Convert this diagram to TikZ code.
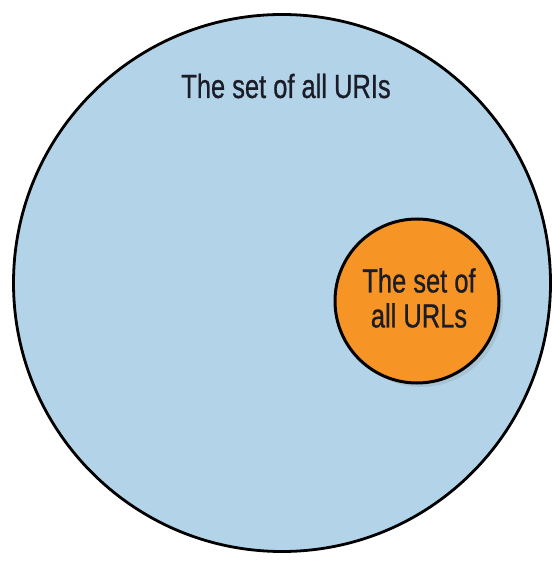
\documentclass[tikz,border=0pt]{standalone}
\usepackage{fontspec}
\setmainfont[FakeStretch=0.76, FakeBold=0.7]{Liberation Sans}
\usetikzlibrary{positioning,shadows}
\definecolor{uriblue}{RGB}{179,212,232}
\definecolor{urlorange}{RGB}{246,148,38}
\definecolor{inkdark}{RGB}{26,28,40}

\begin{document}
\begin{tikzpicture}[
	x=1pt, y=-1pt,
	uriset/.style={circle, draw=black, line width=2.8pt, fill=uriblue,
		minimum size=537pt, inner sep=0pt},
	urlset/.style={circle, draw=black, line width=3pt, fill=urlorange,
		minimum size=164pt, inner sep=0pt,
		drop shadow={opacity=0.2, shadow xshift=4pt, shadow yshift=-4pt}},
	setlabel/.style={text=inkdark, align=center, inner sep=0pt,
		font=\fontsize{33.5}{35}\selectfont}
	]
	\useasboundingbox (0,0) rectangle (551,561);
	\node[uriset] (uris) at (282,283) {};
	\node[setlabel] (urilabel) at (286,86) {The set of all URIs};
	\node[urlset] (urls) at (417,301) {};
	\node[setlabel] (urllabel) at (419,298) {The set of\\all URLs};
\end{tikzpicture}
\end{document}
